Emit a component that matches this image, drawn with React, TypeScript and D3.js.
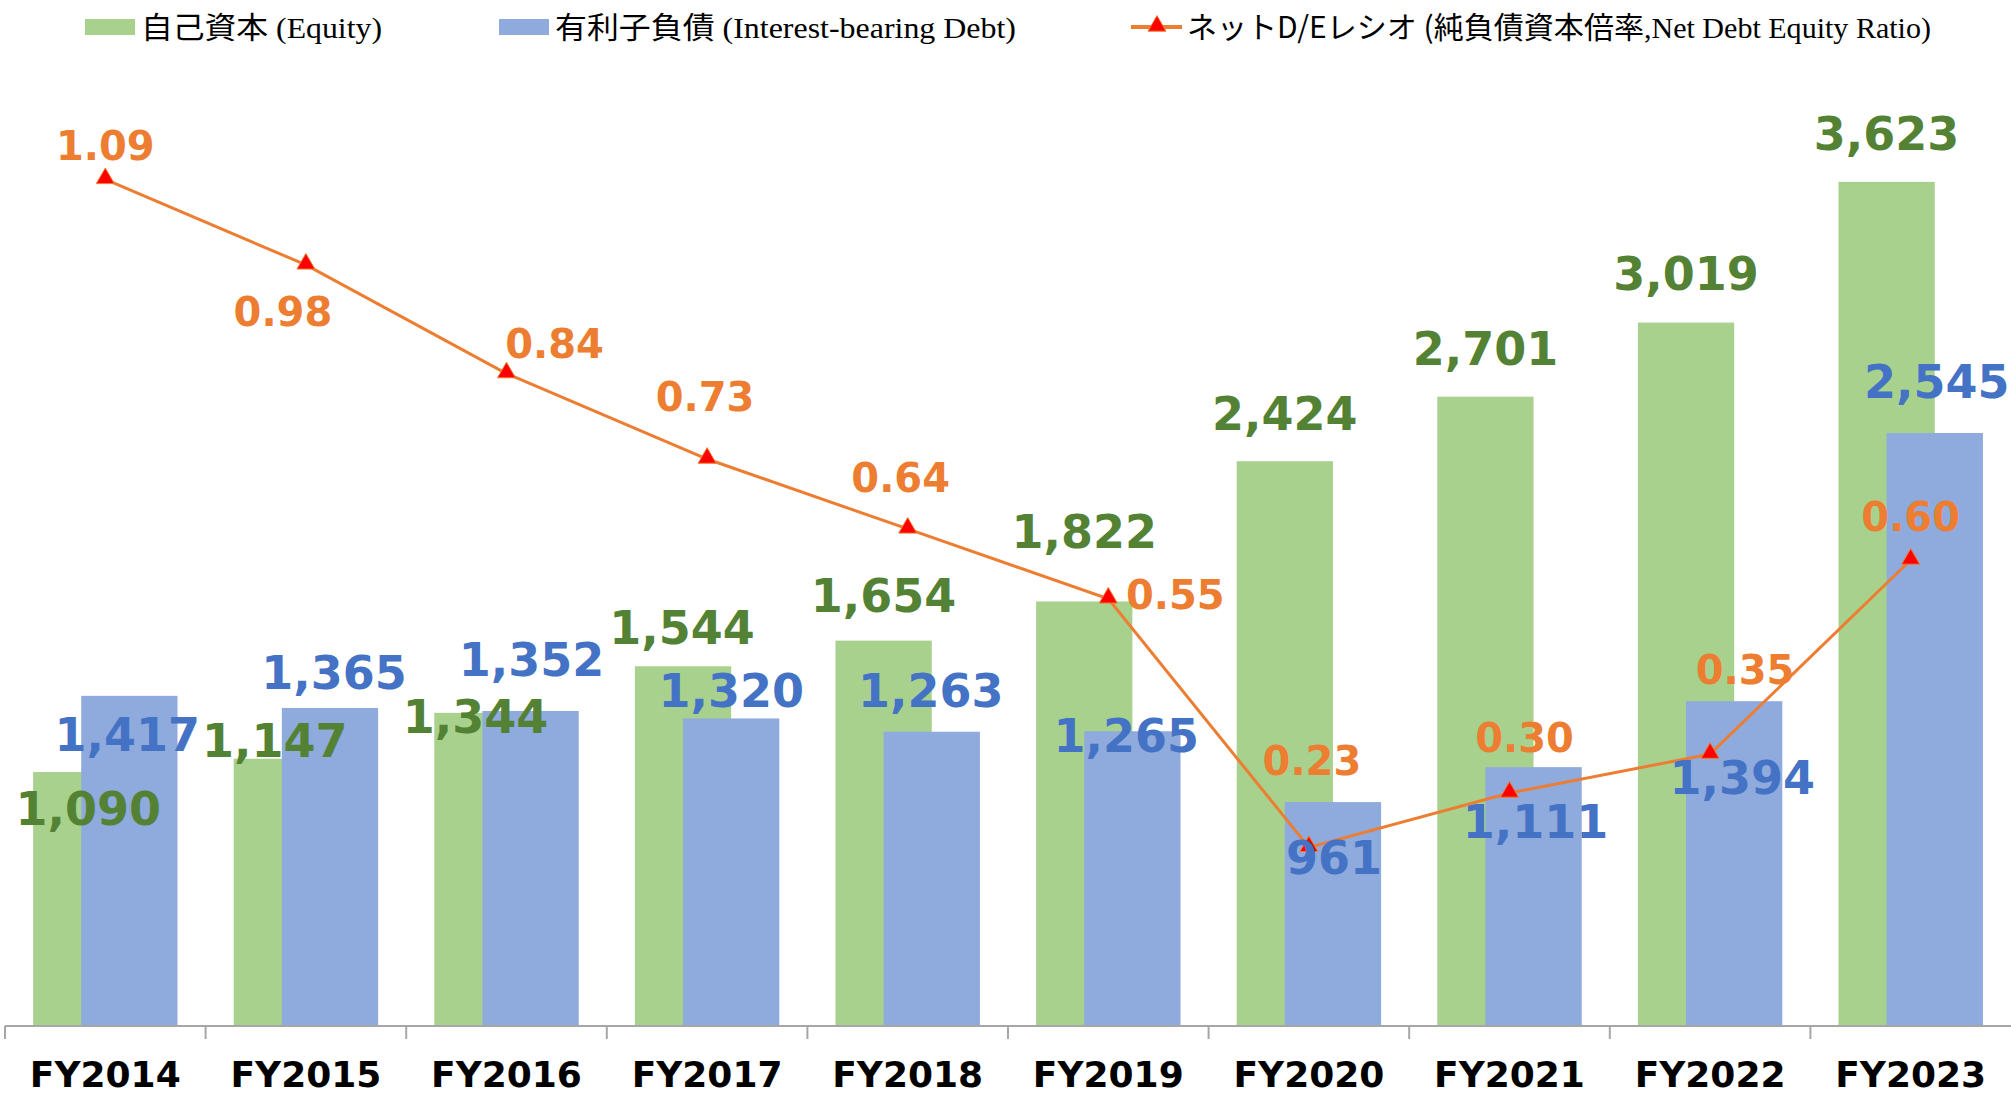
import React, { useRef, useEffect } from "react";
import * as d3 from "d3";

const categories = ["FY2014", "FY2015", "FY2016", "FY2017", "FY2018", "FY2019", "FY2020", "FY2021", "FY2022", "FY2023"];
const equity = [1090, 1147, 1344, 1544, 1654, 1822, 2424, 2701, 3019, 3623];
const debt = [1417, 1365, 1352, 1320, 1263, 1265, 961, 1111, 1394, 2545];
const ratio = [1.09, 0.98, 0.84, 0.73, 0.64, 0.55, 0.23, 0.3, 0.35, 0.6];

// hand-placed label nudges (label centre relative to bar top / point)
const equityLabelShift = [[7, 36], [-7, -19], [-7, 3], [-1, -39], [0, -45], [0, -70], [0, -48], [0, -48], [0, -49], [0, -49]];
const debtLabelShift = [[-2, 38], [4, -36], [1, -52], [0, -28], [-1, -42], [-6, 4], [1, 55], [2, 54], [8, 76], [2, -52]];
const ratioLabelShift = [[0, -34], [-23, 47], [48, -30], [-2, -63], [-7, -52], [67, -4], [3, -87], [15, -56], [35, -85], [0, -44]];

const fmt = d3.format(",");

const App = () => {
  const ref = useRef(null);

  useEffect(() => {
    const svg = d3.select(ref.current);
    svg.selectAll("*").remove();

    const width = 2011;
    const height = 1096;
    const left = 5;
    const right = 2011;
    const top = 94;
    const bottom = 1026;

    const x = d3.scaleBand().domain(categories).range([left, right]).padding(0);
    const bw = x.bandwidth();
    const barW = bw * 0.48;
    const y = d3.scaleLinear().domain([0, 4000]).range([bottom, top]);
    const y2 = d3.scaleLinear().domain([0, 1.2]).range([bottom, top]);

    const green = "#A9D18E";
    const blue = "#8FAADC";
    const greenText = "#548235";
    const blueText = "#4472C4";
    const orange = "#ED7D31";
    const numFont = "'DejaVu Sans', Verdana, sans-serif";

    svg.attr("width", width).attr("height", height);

    const cx = (i) => x(categories[i]) + bw / 2;

    // bars
    svg.append("g")
      .selectAll("rect")
      .data(equity)
      .enter()
      .append("rect")
      .attr("x", (d, i) => cx(i) - barW * 0.75)
      .attr("y", (d) => y(d))
      .attr("width", barW)
      .attr("height", (d) => bottom - y(d))
      .attr("fill", green);

    svg.append("g")
      .selectAll("rect")
      .data(debt)
      .enter()
      .append("rect")
      .attr("x", (d, i) => cx(i) - barW * 0.25)
      .attr("y", (d) => y(d))
      .attr("width", barW)
      .attr("height", (d) => bottom - y(d))
      .attr("fill", blue);

    // x axis
    const axis = svg.append("g").attr("stroke", "#A6A6A6").attr("stroke-width", 2);
    axis.append("line").attr("x1", left).attr("x2", right).attr("y1", bottom).attr("y2", bottom);
    axis.selectAll(".tick")
      .data(categories)
      .enter()
      .append("line")
      .attr("x1", (d) => x(d))
      .attr("x2", (d) => x(d))
      .attr("y1", bottom)
      .attr("y2", bottom + 13);

    svg.append("g")
      .selectAll("text")
      .data(categories)
      .enter()
      .append("text")
      .attr("x", (d) => x(d) + bw / 2)
      .attr("y", 1087)
      .attr("text-anchor", "middle")
      .attr("font-family", numFont)
      .attr("font-weight", "bold")
      .attr("font-size", 36)
      .attr("fill", "#000")
      .text((d) => d);

    // ratio line
    const line = d3.line()
      .x((d, i) => cx(i))
      .y((d) => y2(d));

    svg.append("path")
      .datum(ratio)
      .attr("d", line)
      .attr("fill", "none")
      .attr("stroke", orange)
      .attr("stroke-width", 3);

    const tri = d3.symbol().type(d3.symbolTriangle).size(140);
    svg.append("g")
      .selectAll("path")
      .data(ratio)
      .enter()
      .append("path")
      .attr("d", tri)
      .attr("transform", (d, i) => `translate(${cx(i)},${y2(d) - 1})`)
      .attr("fill", "#FF0000")
      .attr("stroke", orange)
      .attr("stroke-width", 1);

    // data labels
    const labels = (values, shift, anchorX, anchorY, color, size, text) => {
      svg.append("g")
        .selectAll("text")
        .data(values)
        .enter()
        .append("text")
        .attr("x", (d, i) => anchorX(i) + shift[i][0])
        .attr("y", (d, i) => anchorY(d) + shift[i][1] + size * 0.365)
        .attr("text-anchor", "middle")
        .attr("font-family", numFont)
        .attr("font-weight", "bold")
        .attr("font-size", size)
        .attr("fill", color)
        .text(text);
    };

    labels(equity, equityLabelShift, (i) => cx(i) - barW / 4, y, greenText, 46, (d) => fmt(d));
    labels(debt, debtLabelShift, (i) => cx(i) + barW / 4, y, blueText, 46, (d) => fmt(d));
    labels(ratio, ratioLabelShift, cx, y2, orange, 40, (d) => d.toFixed(2));

    // legend
    const legend = svg.append("g");
    const jp = "'Noto Sans CJK JP', sans-serif";
    const serif = "'Liberation Serif', 'Times New Roman', serif";
    const items = [
      { kind: "bar", color: green, x: 85, jp: "自己資本", en: " (Equity)", len: 241 },
      { kind: "bar", color: blue, x: 499, jp: "有利子負債", en: " (Interest-bearing Debt)", len: 461 },
      { kind: "line", color: orange, x: 1131, jp: "ネットD/Eレシオ (純負債資本倍率", en: ",Net Debt Equity Ratio)", len: 744 }
    ];

    items.forEach((it) => {
      if (it.kind === "bar") {
        legend.append("rect")
          .attr("x", it.x).attr("y", 19)
          .attr("width", 50).attr("height", 16)
          .attr("fill", it.color);
      } else {
        legend.append("line")
          .attr("x1", it.x).attr("x2", it.x + 51)
          .attr("y1", 27).attr("y2", 27)
          .attr("stroke", it.color).attr("stroke-width", 4);
        legend.append("path")
          .attr("d", tri)
          .attr("transform", `translate(${it.x + 26},26)`)
          .attr("fill", "#FF0000")
          .attr("stroke", orange);
      }
      const t = legend.append("text")
        .attr("x", it.x + 56)
        .attr("y", 38)
        .attr("font-size", 30)
        .attr("fill", "#000")
        .attr("textLength", it.len)
        .attr("lengthAdjust", "spacingAndGlyphs");
      t.append("tspan").attr("font-family", jp).text(it.jp);
      t.append("tspan").attr("font-family", serif).text(it.en);
    });
  }, []);

  return (
    <svg ref={ref} style={{ position: "absolute", left: 0, top: 0, background: "#fff" }}></svg>
  );
};

export default App;
